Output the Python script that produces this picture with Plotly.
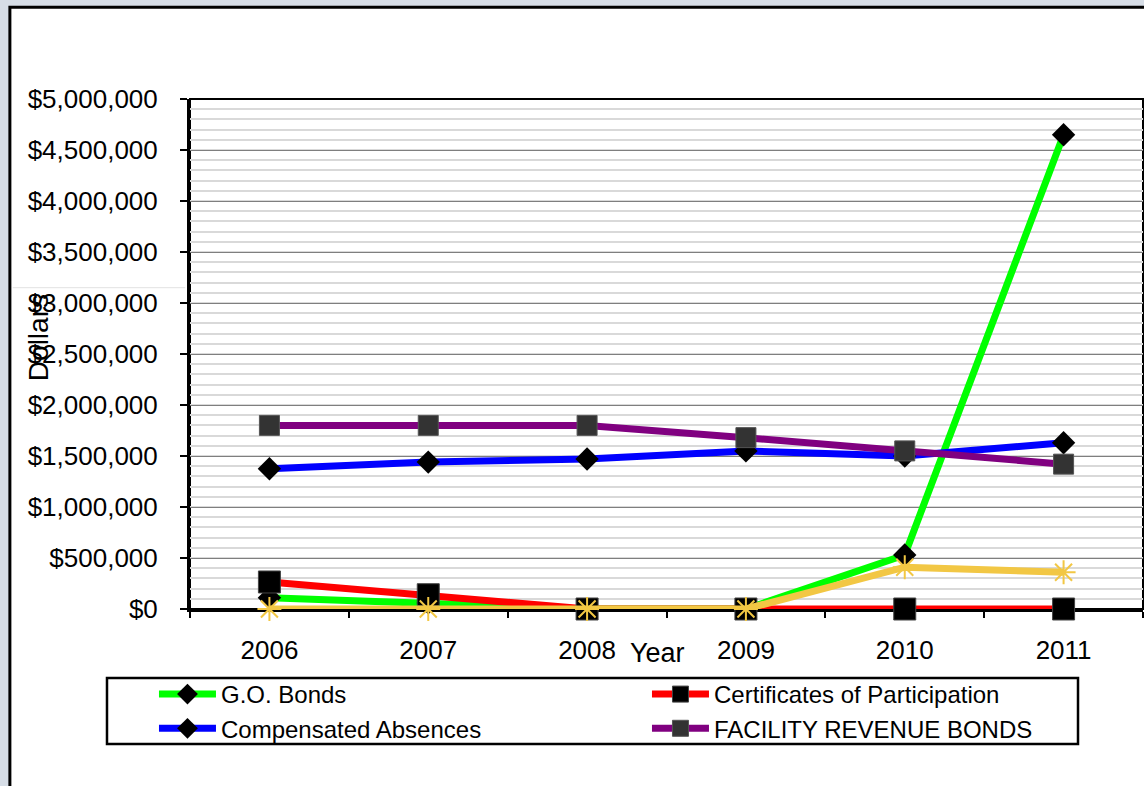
import plotly.graph_objects as go

# Debt outstanding by type, fiscal years 2006-2011
years = ["2006", "2007", "2008", "2009", "2010", "2011"]
go_bonds = [110000, 60000, 0, 0, 530000, 4650000]
certificates = [265000, 140000, 0, 0, 0, 0]
compensated = [1375000, 1440000, 1470000, 1550000, 1500000, 1630000]
facility_rev = [1800000, 1800000, 1800000, 1680000, 1550000, 1420000]
other_debt = [0, 0, 0, 0, 410000, 360000]

y_ticks = list(range(0, 5000001, 500000))
y_labels = ["${:,}".format(v) for v in y_ticks]

FONT = "Liberation Sans, Arial, sans-serif"

fig = go.Figure()

fig.add_trace(go.Scatter(
    x=years, y=go_bonds, name="G.O. Bonds", mode="lines+markers", cliponaxis=False,
    line=dict(color="#00ff00", width=7),
    marker=dict(symbol="diamond", size=18, color="black"),
))
fig.add_trace(go.Scatter(
    x=years, y=certificates, name="Certificates of Participation", mode="lines+markers",
    cliponaxis=False,
    line=dict(color="#ff0000", width=7),
    marker=dict(symbol="square", size=22, color="black", line=dict(color="#444444", width=1)),
))
fig.add_trace(go.Scatter(
    x=years, y=compensated, name="Compensated Absences", mode="lines+markers",
    cliponaxis=False,
    line=dict(color="#0000ff", width=7),
    marker=dict(symbol="diamond", size=18, color="black"),
))
fig.add_trace(go.Scatter(
    x=years, y=facility_rev, name="FACILITY REVENUE BONDS", mode="lines+markers",
    cliponaxis=False,
    line=dict(color="#800080", width=7),
    marker=dict(symbol="square", size=20, color="#333333", line=dict(color="#555555", width=1)),
))
fig.add_trace(go.Scatter(
    x=years, y=other_debt, name="Other", mode="lines+markers", showlegend=False,
    cliponaxis=False,
    line=dict(color="#f2c744", width=7),
    marker=dict(symbol="asterisk-open", size=20, color="#f2c744", line=dict(color="#f2c744", width=2)),
))

# white panel with black frame behind the chart
fig.add_shape(type="rect", xref="paper", yref="paper", layer="below",
              x0=-0.189, x1=1.01, y0=-0.40, y1=1.18,
              fillcolor="white", line=dict(color="black", width=3))
# frame around plotting area (top and right)
fig.add_shape(type="rect", xref="paper", yref="paper", layer="below",
              x0=0, x1=1, y0=0, y1=1, line=dict(color="black", width=2))
# legend frame
fig.add_shape(type="rect", xref="paper", yref="paper",
              x0=-0.0871, x1=0.9318, y0=-0.2647, y1=-0.1353,
              line=dict(color="black", width=2.5))
# faint separator line at left of panel
fig.add_shape(type="line", xref="paper", yref="paper",
              x0=-0.186, x1=-0.005, y0=0.63, y1=0.63,
              line=dict(color="#e2e2e2", width=1))

fig.add_annotation(text="Dollars", xref="paper", yref="paper",
                   x=-0.1595, y=0.533, xanchor="center", yanchor="middle",
                   textangle=-90, showarrow=False,
                   font=dict(family=FONT, size=28, color="black"))
fig.add_annotation(text="Year", xref="paper", yref="paper",
                   x=0.4905, y=-0.087, xanchor="center", yanchor="middle",
                   showarrow=False,
                   font=dict(family=FONT, size=27, color="black"))

fig.update_layout(
    width=1144, height=786,
    margin=dict(l=190, r=1, t=99, b=177),
    paper_bgcolor="#d6dde6",
    plot_bgcolor="white",
    font=dict(family=FONT, color="black"),
    showlegend=True,
    legend=dict(
        orientation="h", x=-0.0378, y=-0.1235, xanchor="left", yanchor="top",
        borderwidth=0, bgcolor="rgba(0,0,0,0)",
        font=dict(family=FONT, size=24, color="black"),
        entrywidth=421, entrywidthmode="pixels", itemwidth=57,
        tracegroupgap=0,
    ),
    xaxis=dict(
        type="category", range=[-0.5, 5.5],
        showline=True, linecolor="black", linewidth=3, layer="below traces",
        ticks="outside", tickson="boundaries", ticklen=6, tickwidth=2, tickcolor="black",
        tickfont=dict(family=FONT, size=26, color="black"), ticklabelstandoff=16,
        showgrid=False, zeroline=False,
    ),
    yaxis=dict(
        range=[0, 5000000], tickvals=y_ticks, ticktext=y_labels,
        showline=True, linecolor="black", linewidth=3, layer="below traces",
        ticks="outside", ticklen=7, tickwidth=2, tickcolor="black",
        tickfont=dict(family=FONT, size=26, color="black"), ticklabelstandoff=17,
        showgrid=True, gridcolor="#7f7f7f", gridwidth=1,
        minor=dict(dtick=100000, showgrid=True, gridcolor="#d9d9d9", gridwidth=1.5),
        zeroline=False,
    ),
)

fig.write_html("out.html")
